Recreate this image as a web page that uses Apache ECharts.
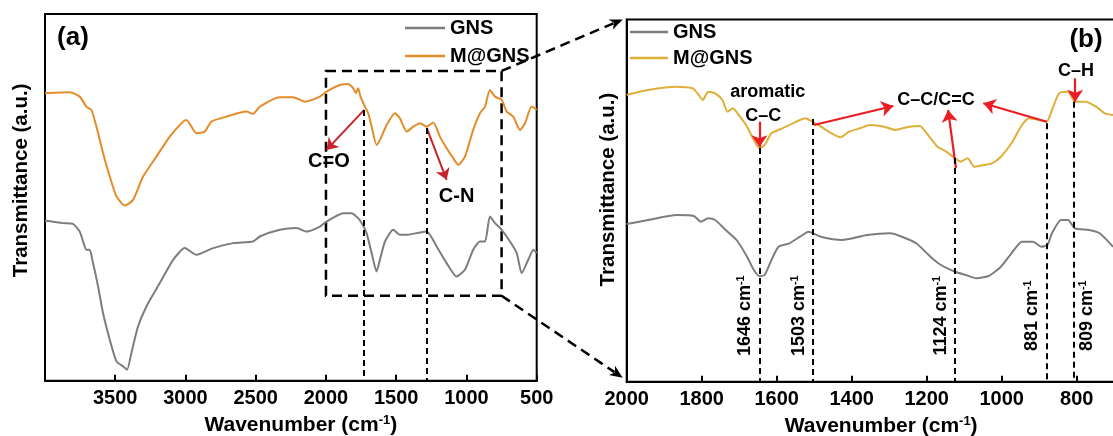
<!DOCTYPE html>
<html><head><meta charset="utf-8">
<script src="https://cdn.jsdelivr.net/npm/echarts@6/dist/echarts.min.js"></script>
<style>html,body{margin:0;padding:0;background:#fff;width:1113px;height:436px;overflow:hidden}#c{width:1113px;height:436px}</style>
</head><body><div id="c"></div>
<script>
// ---------- data (wavenumber cm-1, transmittance a.u.) ----------
const gnsA = [[4000,160.3],[3872,157.7],[3801,157],[3753,149.3],[3729,139.3],[3705,131],[3682,131],[3658,117.7],[3622,94.3],[3587,67.7],[3539,41],[3491,19.3],[3444,14.3],[3416,11],[3385,27.7],[3338,54.3],[3278,74.3],[3183,97.7],[3088,121],[3005,132.7],[2922,126],[2803,132.7],[2661,137.7],[2519,139.3],[2471,144.3],[2328,151],[2209,152.7],[2138,149.3],[2043,154.3],[1996,159.3],[1877,167.7],[1818,167.7],[1771,162.7],[1746,157.7],[1711,147.7],[1675,127.7],[1640,109.3],[1616,121],[1580,139.3],[1521,151],[1474,146],[1426,146],[1355,147.7],[1283,149.3],[1212,134.3],[1141,117.7],[1070,104.3],[1011,111],[952,131],[904,139.3],[868,139.3],[833,164.3],[797,157.7],[749,151],[690,139.3],[642,127.7],[607,107.7],[560,121],[524,131],[500,127.7]];
const mgnsA = [[4000,287.7],[3824,288.7],[3753,284.3],[3705,274.3],[3670,271],[3634,254.3],[3587,228],[3539,204.3],[3491,184.3],[3432,175.3],[3373,181],[3302,204.3],[3207,224.3],[3112,244.3],[3017,259.3],[2993,261],[2922,247.7],[2863,249.3],[2815,259.3],[2708,264.3],[2566,269.3],[2519,267],[2471,274.3],[2328,283.7],[2234,283.7],[2150,279.3],[2043,284.3],[1996,289.3],[1901,296],[1842,297],[1806,292.7],[1787,287.7],[1771,292.7],[1754,284.3],[1723,274.3],[1699,267.7],[1675,254.3],[1640,236],[1616,241],[1568,256],[1509,267.7],[1474,262.7],[1426,249.3],[1379,254.3],[1331,257.7],[1283,254.3],[1236,258.3],[1189,244.3],[1141,232.7],[1094,222.7],[1058,216],[1011,224.3],[952,251],[904,267.7],[868,274.3],[833,291],[797,284.3],[749,281],[714,269.3],[667,264.3],[619,251],[583,257.7],[536,274.3],[500,271]];
const gnsB = [[2000,157.7],[1943,161.7],[1867,166.7],[1821,165.7],[1802,160],[1783,163.4],[1764,161.7],[1736,151.7],[1707,141.7],[1679,125],[1661,111.7],[1646,105.7],[1632,106.7],[1614,121.7],[1595,135],[1566,138.4],[1538,145],[1515,150],[1482,145],[1425,141.7],[1397,143.4],[1359,146.7],[1298,148.4],[1266,145],[1228,138.4],[1190,125],[1162,116.7],[1124,110],[1096,106.7],[1068,103.4],[1035,105.7],[1002,115],[974,128.4],[946,140],[917,140],[894,135],[878,136.7],[866,148.4],[842,161.7],[823,161.7],[805,153.4],[767,151.7],[739,148.4],[703,135]];
const mgnsB = [[2000,286.7],[1943,291.7],[1867,295],[1825,293.4],[1811,288.4],[1797,281.7],[1783,290],[1764,288.4],[1745,281.7],[1731,270],[1717,273.4],[1698,265],[1679,255],[1661,241.7],[1646,233.4],[1632,236.7],[1614,248.4],[1585,253.4],[1557,258.4],[1524,263.4],[1505,260],[1482,255],[1454,248.4],[1430,244.4],[1407,250],[1378,253.4],[1350,256.7],[1313,255],[1284,251.7],[1247,255],[1218,255.7],[1200,248.4],[1171,235],[1148,230],[1124,223.4],[1110,220],[1091,223.4],[1073,215],[1049,216.7],[1026,218.4],[1002,225],[974,238.4],[946,256.7],[927,263.4],[899,261.7],[880,260],[866,271.7],[847,288.4],[823,290],[805,280],[776,280],[748,275],[725,268.4],[703,266.7]];

// annotations (data coordinates)
const bondsA = [1728, 1283];
const bondsATop = [271, 253];
const arrowsA = [[[1728,271],[1996,231]], [[1283,253],[1141,201]]];
const textsA = [['C=O',1979,219], ['C-N',1070,184]];
const zoomBox = [[2000,310],[750,85]];

const peaksB = [1646, 1503, 1124, 881, 809];
const peaksBTop = [233.7, 262.7, 223.7, 258.4, 280];
const peakLabelSide = [-1, -1, -1, -1, 1];
const arrowsB = [[[1646,260],[1646,234.4]], [[1501,256.7],[1289,275.7]], [[1122,213.7],[1143,271.7]], [[880,260],[1049,278.4]], [[804,303.4],[804,280]]];
const textsB = [['aromatic',1624,289.4], ['C–C',1636,266], ['C–C/C=C',1175,282], ['C–H',802,311]];

// ---------- styling ----------
const FF = '"Liberation Sans", Arial, sans-serif';
const GRAY = '#7d7d7d', ORANGE = '#E58C2A', GOLD = '#E0AE3A';
const RED_A = '#C8232B', RED_B = '#EC1C24';
const bold = (s) => ({fontSize: s, fontWeight: 'bold', color: '#000', fontFamily: FF});
const wnName = '{n|Wavenumber (cm}{s|-1}{n|)}';
const nameRich = {n: {fontSize: 21, fontWeight: 'bold', fontFamily: FF, color: '#000', lineHeight: 23},
                  s: {fontSize: 13, fontWeight: 'bold', fontFamily: FF, color: '#000', verticalAlign: 'top', lineHeight: 23}};
const plain = (v) => String(v);

const xAxisCommon = {
  type: 'value', inverse: true,
  axisLine: {show: true, onZero: false, lineStyle: {color: '#000', width: 2}},
  axisTick: {inside: true, length: 6, lineStyle: {color: '#000', width: 2}},
  splitLine: {show: false},
  nameLocation: 'middle', nameGap: 29
};
const yAxisCommon = {
  type: 'value', min: 0,
  axisLine: {show: true, onZero: false, lineStyle: {color: '#000', width: 2}},
  axisTick: {show: false}, axisLabel: {show: false}, splitLine: {show: false},
  name: 'Transmittance (a.u.)', nameLocation: 'middle'
};

const option = {
  animation: false,
  backgroundColor: '#fff',
  grid: [
    {left: 45, top: 14, width: 491.7, height: 366.7, show: true, borderColor: '#000', borderWidth: 2,
     outerBoundsMode: 'none', containLabel: false},
    {left: 626.7, top: 19.4, width: 525, height: 362.3, show: true, borderColor: '#000', borderWidth: 2,
     outerBoundsMode: 'none', containLabel: false}
  ],
  xAxis: [
    Object.assign({}, xAxisCommon, {gridIndex: 0, min: 500, max: 4000, interval: 500,
      axisLabel: Object.assign({margin: 8, showMaxLabel: false, formatter: plain}, bold(20)),
      name: wnName, nameTextStyle: {rich: nameRich, padding: [0, 0, 0, 20]}}),
    Object.assign({}, xAxisCommon, {gridIndex: 1, min: 600, max: 2000, interval: 200,
      axisLabel: Object.assign({margin: 8, formatter: plain}, bold(20)),
      name: wnName, nameTextStyle: {rich: nameRich, padding: [0, 16, 0, 0]}})
  ],
  yAxis: [
    Object.assign({}, yAxisCommon, {gridIndex: 0, max: 367, nameGap: 13,
      nameTextStyle: Object.assign({padding: [0, 0, 0, 34]}, bold(20.5))}),
    Object.assign({}, yAxisCommon, {gridIndex: 1, max: 362.3, nameGap: 8,
      nameTextStyle: Object.assign({padding: [0, 0, 0, 22]}, bold(20.5))})
  ],
  legend: [
    {data: ['GNS', {name: 'M@GNS', itemStyle: {color: ORANGE}}], left: 400, top: 13, orient: 'vertical',
     icon: 'rect', itemWidth: 40, itemHeight: 2.5, itemGap: 8, selectedMode: false,
     textStyle: Object.assign({lineHeight: 20}, bold(20))},
    {data: ['GNS', {name: 'M@GNS', itemStyle: {color: GOLD}}], left: 625, top: 17, orient: 'vertical',
     icon: 'rect', itemWidth: 38, itemHeight: 2.5, itemGap: 6, selectedMode: false,
     textStyle: Object.assign({lineHeight: 20}, bold(20))}
  ],
  series: [
    {name: 'GNS', type: 'line', xAxisIndex: 0, yAxisIndex: 0, data: gnsA, showSymbol: false, symbol: 'none',
     smooth: 0.2, lineStyle: {color: GRAY, width: 2}, itemStyle: {color: GRAY},
     markLine: {silent: true, symbol: ['none', 'arrow'], symbolSize: 11, label: {show: false},
       lineStyle: {color: RED_A, width: 2, type: 'solid'}, emphasis: {disabled: true},
       data: arrowsA.map(a => [{coord: a[0]}, {coord: a[1]}])}},
    {name: 'M@GNS', type: 'line', xAxisIndex: 0, yAxisIndex: 0, data: mgnsA, showSymbol: false, symbol: 'none',
     smooth: 0.2, lineStyle: {color: ORANGE, width: 2}, itemStyle: {color: ORANGE},
     markLine: {silent: true, symbol: 'none', label: {show: false}, emphasis: {disabled: true},
       lineStyle: {color: '#000', width: 2, type: [6, 4]},
       data: bondsA.map((w, i) => [{coord: [w, bondsATop[i]]}, {coord: [w, 0]}])},
     markArea: {silent: true, label: {show: false}, emphasis: {disabled: true},
       itemStyle: {color: 'rgba(0,0,0,0)', borderColor: '#000', borderWidth: 2.5, borderType: [10, 6]},
       data: [[{coord: zoomBox[0]}, {coord: zoomBox[1]}]]}},
    {name: 'GNS', type: 'line', xAxisIndex: 1, yAxisIndex: 1, data: gnsB, showSymbol: false, symbol: 'none',
     smooth: 0.2, lineStyle: {color: GRAY, width: 2}, itemStyle: {color: GRAY},
     markLine: {silent: true, symbol: ['none', 'arrow'], symbolSize: 12, label: {show: false},
       lineStyle: {color: RED_B, width: 2.2, type: 'solid'}, emphasis: {disabled: true},
       data: arrowsB.map(a => [{coord: a[0]}, {coord: a[1]}])}},
    {name: 'M@GNS', type: 'line', xAxisIndex: 1, yAxisIndex: 1, data: mgnsB, showSymbol: false, symbol: 'none',
     smooth: 0.2, lineStyle: {color: GOLD, width: 2}, itemStyle: {color: GOLD},
     markLine: {silent: true, symbol: 'none', label: {show: false}, emphasis: {disabled: true},
       lineStyle: {color: '#000', width: 2, type: [6, 4]},
       data: peaksB.map((w, i) => [{coord: [w, peaksBTop[i]]}, {coord: [w, 0]}])}}
  ]
};

const chart = echarts.init(document.getElementById('c'), null, {renderer: 'canvas', width: 1113, height: 436});
chart.setOption(option);

const toPx = (g, p) => chart.convertToPixel({gridIndex: g}, p);
const g = [];
function txt(x, y, text, size, rot, rich) {
  const st = {text: text, fontSize: size, fontWeight: 'bold', fontFamily: FF, fill: '#000',
              align: 'center', verticalAlign: 'middle', textAlign: 'center', textVerticalAlign: 'middle'};
  if (rich) st.rich = rich;
  g.push({type: 'text', x: x, y: y, rotation: rot || 0, z: 100, style: st});
}
function arrowHead(x1, y1, x2, y2, L, W, color) {
  const dx = x2 - x1, dy = y2 - y1, len = Math.hypot(dx, dy), ux = dx / len, uy = dy / len;
  const nx = -uy, ny = ux;
  g.push({type: 'polygon', z: 100, shape: {points: [
    [x2, y2], [x2 - ux * L + nx * W, y2 - uy * L + ny * W], [x2 - ux * L * 0.72, y2 - uy * L * 0.72],
    [x2 - ux * L - nx * W, y2 - uy * L - ny * W]]}, style: {fill: color}});
}
// panel tags
txt(73, 37.5, '(a)', 26);
txt(1086, 40, '(b)', 26);
// panel (a) annotation text
textsA.forEach(t => { const p = toPx(0, [t[1], t[2]]); txt(p[0], p[1], t[0], 20); });
// panel (b) annotation text
textsB.forEach(t => { const p = toPx(1, [t[1], t[2]]); txt(p[0], p[1], t[0], 18); });
// rotated peak labels
const supRich = {n: {fontSize: 18, fontWeight: 'bold', fontFamily: FF, fill: '#000', lineHeight: 20},
                 s: {fontSize: 11, fontWeight: 'bold', fontFamily: FF, fill: '#000', verticalAlign: 'top', lineHeight: 20}};
peaksB.forEach((w, i) => {
  const p = toPx(1, [w, 66]);
  txt(p[0] + peakLabelSide[i] * 14, p[1], '{n|' + w + ' cm}{s|-1}', 18, Math.PI / 2, supRich);
});
// dashed connectors from zoom box to panel (b)
const bTopLeft = toPx(1, [2000, 362.3]);
const bBotLeft = toPx(1, [2000, 0]);
const boxTR = toPx(0, [zoomBox[1][0], zoomBox[0][1]]);
const boxBR = toPx(0, [zoomBox[1][0], zoomBox[1][1]]);
[[boxTR, [bTopLeft[0] - 4, bTopLeft[1]]], [boxBR, [bBotLeft[0] - 4, bBotLeft[1] - 4]]].forEach(c => {
  const a = c[0], b = c[1];
  const dx = b[0] - a[0], dy = b[1] - a[1], len = Math.hypot(dx, dy);
  const ex = b[0] - dx / len * 10, ey = b[1] - dy / len * 10;
  g.push({type: 'line', z: 90, shape: {x1: a[0], y1: a[1], x2: ex, y2: ey},
          style: {stroke: '#000', lineWidth: 2.5, lineDash: [10, 6]}});
  arrowHead(a[0], a[1], b[0], b[1], 13, 5.5, '#000');
});
chart.setOption({graphic: {elements: g}});
</script>
</body></html>
